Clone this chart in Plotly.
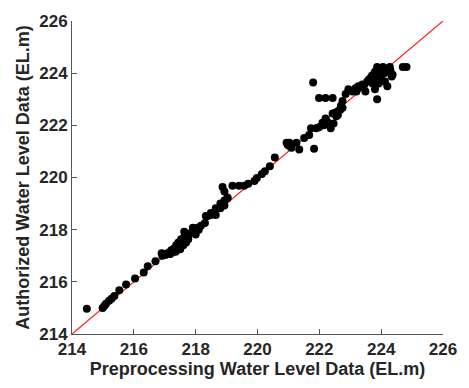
import plotly.graph_objects as go

# Preprocessing (x) vs Authorized (y) water level data, EL.m
pre = [
    214.48, 214.99, 215.05, 215.10, 215.20, 215.28, 215.37, 215.53, 215.75, 216.04,
    216.32, 216.45, 216.70, 216.90, 216.92, 217.02, 217.10, 217.18, 217.21, 217.28,
    217.34, 217.37, 217.40, 217.44, 217.50, 217.53, 217.56, 217.60, 217.63, 217.66,
    217.69, 217.72, 217.76, 217.80, 217.91, 218.00, 218.07, 218.17, 218.30, 218.39,
    218.49, 218.65, 218.80, 218.93, 218.33, 218.49, 218.65, 218.80, 218.93, 219.03,
    218.87, 218.93, 219.03, 219.19, 219.40, 219.57, 219.70, 219.90, 219.98, 220.14,
    220.24, 220.40, 220.56, 220.94, 221.03, 221.10, 221.26, 221.35, 221.51, 221.67,
    221.83, 221.73, 221.90, 221.99, 222.10, 222.20, 222.30, 222.37, 222.46, 222.43,
    222.53, 222.62, 222.75, 221.80, 221.99, 222.20, 222.43, 222.75, 222.70, 222.85,
    222.94, 223.07, 223.17, 223.26, 223.39, 223.55, 223.64, 223.74, 223.80, 223.87,
    223.96, 224.06, 224.18, 224.28, 224.70, 224.82, 223.87, 223.80, 224.12, 224.20,
    224.34, 224.37, 223.49, 223.71, 224.00, 223.90, 224.10, 224.25, 223.60, 223.30,
    217.25, 217.45, 217.35, 217.55, 217.15, 217.65, 217.05, 218.10,
    217.30, 217.42, 217.48, 217.58, 217.70, 217.62, 217.52, 217.38,
    222.60, 222.68, 222.55, 223.20, 223.45, 223.65, 223.95, 224.05, 224.15, 224.30,
    223.85, 223.92, 224.02, 223.70, 222.25, 222.15, 221.05, 220.98,
]
auth = [
    214.97, 215.00, 215.08, 215.16, 215.27, 215.35, 215.46, 215.68, 215.90, 216.13,
    216.36, 216.60, 216.79, 217.10, 217.00, 217.03, 217.10, 217.07, 217.21, 217.15,
    217.25, 217.40, 217.30, 217.51, 217.25, 217.63, 217.45, 217.40, 217.92, 217.78,
    217.51, 217.70, 217.63, 217.85, 218.07, 217.81, 218.07, 218.15, 218.26, 218.52,
    218.56, 218.56, 218.82, 218.93, 218.52, 218.64, 218.82, 219.00, 219.12, 219.23,
    219.64, 219.46, 219.20, 219.68, 219.68, 219.68, 219.76, 219.87, 219.98, 220.13,
    220.24, 220.43, 220.77, 221.33, 221.33, 221.14, 221.33, 221.07, 221.51, 221.63,
    221.10, 221.89, 221.89, 221.93, 222.10, 222.26, 222.07, 221.89, 222.07, 222.45,
    222.49, 222.56, 222.67, 223.64, 223.05, 223.05, 223.05, 222.93, 222.75, 223.20,
    223.38, 223.30, 223.42, 223.50, 223.57, 223.68, 223.79, 223.94, 224.05, 224.24,
    224.17, 224.24, 224.17, 224.24, 224.24, 224.24, 223.00, 223.38, 223.68, 223.50,
    223.87, 223.94, 223.30, 223.61, 223.79, 224.10, 224.00, 224.05, 223.75, 223.45,
    217.20, 217.35, 217.15, 217.50, 217.12, 217.60, 217.08, 218.00,
    217.28, 217.32, 217.45, 217.48, 217.58, 217.70, 217.38, 217.22,
    222.40, 222.60, 222.35, 223.30, 223.55, 223.80, 223.95, 224.10, 224.05, 224.10,
    223.70, 223.60, 223.95, 223.90, 222.15, 222.00, 221.20, 221.25,
]
line_ends = [214, 226]
ticks = [214, 216, 218, 220, 222, 224, 226]

fig = go.Figure()
fig.add_trace(go.Scatter(
    x=line_ends, y=line_ends, mode="lines",
    line=dict(color="#ff1a1a", width=1.2), hoverinfo="skip", showlegend=False))
fig.add_trace(go.Scatter(
    x=pre, y=auth, mode="markers",
    marker=dict(color="black", size=8, line=dict(width=0)), showlegend=False))

font_family = "Liberation Sans, Arial, sans-serif"
axis_common = dict(
    range=[214, 226], tickvals=ticks, ticktext=[str(t) for t in ticks],
    showgrid=False, zeroline=False, showline=True, linecolor="#555555", linewidth=1,
    ticks="inside", ticklen=5, tickcolor="#555555", mirror=False,
    tickfont=dict(family=font_family, size=17, color="#262626", weight="bold"),
)
fig.update_layout(
    width=469, height=388,
    margin=dict(l=72, r=20, t=13, b=54),
    paper_bgcolor="white", plot_bgcolor="white",
    xaxis=dict(**axis_common,
               title=dict(text="<b>Preprocessing Water Level Data (EL.m)</b>",
                          font=dict(family=font_family, size=18, color="#262626"),
                          standoff=2)),
    yaxis=dict(**axis_common,
               title=dict(text="<b>Authorized Water Level Data (EL.m)</b>",
                          font=dict(family=font_family, size=18, color="#262626"),
                          standoff=4)),
)
fig.write_html("out.html")
